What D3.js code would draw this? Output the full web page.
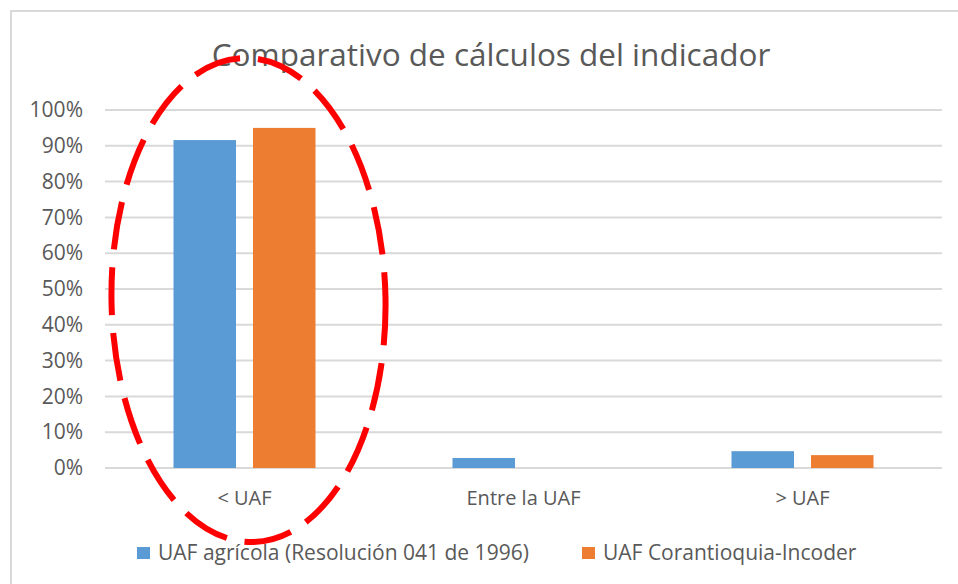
<!DOCTYPE html>
<html>
<head>
<meta charset="utf-8">
<script src="https://cdn.jsdelivr.net/npm/d3@7"></script>
<style>
  body { margin: 0; background: #fff; }
  text { font-family: "Open Sans", Lato, sans-serif; fill: #595959; }
</style>
</head>
<body>
<div id="chart"></div>
<script>
// values
let categories = ["< UAF", "Entre la UAF", "> UAF"];
let seriesNames = ["UAF agrícola (Resolución 041 de 1996)", "UAF Corantioquia-Incoder"];
let uafAgricola = [0.916, 0.028, 0.047];
let uafCorantioquia = [0.95, 0, 0.036];
let yTicks = [0, 0.1, 0.2, 0.3, 0.4, 0.5, 0.6, 0.7, 0.8, 0.9, 1];
let colors = ["#5b9bd5", "#ed7d31"];

let width = 958, height = 584;
let margin = {top: 110, right: 16, bottom: 116, left: 105};

let svg = d3.select("#chart").append("svg")
    .attr("width", width)
    .attr("height", height);

// chart frame (runs off the right and bottom edge)
svg.append("rect")
    .attr("x", 11).attr("y", 11)
    .attr("width", width).attr("height", height)
    .attr("fill", "none")
    .attr("stroke", "#d9d9d9")
    .attr("stroke-width", 2);

let x0 = d3.scaleBand()
    .domain(categories)
    .range([margin.left, width - margin.right])
    .paddingInner(0.491)
    .paddingOuter(0.2455);

let x1 = d3.scaleBand()
    .domain(seriesNames)
    .range([0, x0.bandwidth()])
    .paddingInner(0.214);

let y = d3.scaleLinear()
    .domain([0, 1])
    .range([height - margin.bottom, margin.top]);

// gridlines
svg.append("g")
    .selectAll("line")
    .data(yTicks)
    .enter().append("line")
    .attr("x1", margin.left)
    .attr("x2", width - margin.right)
    .attr("y1", d => y(d))
    .attr("y2", d => y(d))
    .attr("stroke", "#d9d9d9")
    .attr("stroke-width", 2);

// y axis labels
let yAxis = d3.axisLeft(y).tickValues(yTicks).tickFormat(d3.format(".0%")).tickSize(0).tickPadding(22);
let gy = svg.append("g")
    .attr("transform", "translate(" + margin.left + ",0)")
    .call(yAxis);
gy.select(".domain").remove();
gy.selectAll("text")
    .style("font-size", "21px")
    .attr("fill", "#595959");

// x axis labels
let xAxis = d3.axisBottom(x0).tickSize(0).tickPadding(23);
let gx = svg.append("g")
    .attr("transform", "translate(0," + y(0) + ")")
    .call(xAxis);
gx.select(".domain").remove();
gx.selectAll("text")
    .style("font-size", "20px")
    .attr("fill", "#595959");

// bars
let rows = categories.map((c, i) => ({cat: c, vals: [uafAgricola[i], uafCorantioquia[i]]}));
let groups = svg.append("g")
    .selectAll("g")
    .data(rows)
    .enter().append("g")
    .attr("transform", d => "translate(" + x0(d.cat) + ",0)");

groups.selectAll("rect")
    .data(d => d.vals.map((v, j) => ({name: seriesNames[j], v: v, j: j})))
    .enter().append("rect")
    .attr("x", d => x1(d.name))
    .attr("width", x1.bandwidth())
    .attr("y", d => y(d.v))
    .attr("height", d => y(0) - y(d.v))
    .attr("fill", d => colors[d.j]);

// title
svg.append("text")
    .attr("x", 491)
    .attr("y", 66)
    .attr("text-anchor", "middle")
    .style("font-size", "31.5px")
    .text("Comparativo de cálculos del indicador");

// legend
let legendX = [137, 582];
let legend = svg.append("g")
    .selectAll("g")
    .data(seriesNames)
    .enter().append("g")
    .attr("transform", (d, i) => "translate(" + legendX[i] + ",547)");
legend.append("rect")
    .attr("width", 13).attr("height", 12)
    .attr("fill", (d, i) => colors[i]);
legend.append("text")
    .attr("x", 21)
    .attr("y", 13)
    .style("font-size", "21px")
    .text(d => d);

// red dashed ellipse around the first group
let cx = x0(categories[0]) + x0.bandwidth() / 2 + 4;
let cy = (y(1) + y(0)) / 2 + 11;
svg.append("ellipse")
    .attr("cx", cx)
    .attr("cy", cy)
    .attr("rx", 137)
    .attr("ry", 242)
    .attr("transform", "rotate(-1.1," + cx + "," + cy + ")")
    .attr("fill", "none")
    .attr("stroke", "#ff0000")
    .attr("stroke-width", 6)
    .attr("stroke-dasharray", "48 18");
</script>
</body>
</html>
